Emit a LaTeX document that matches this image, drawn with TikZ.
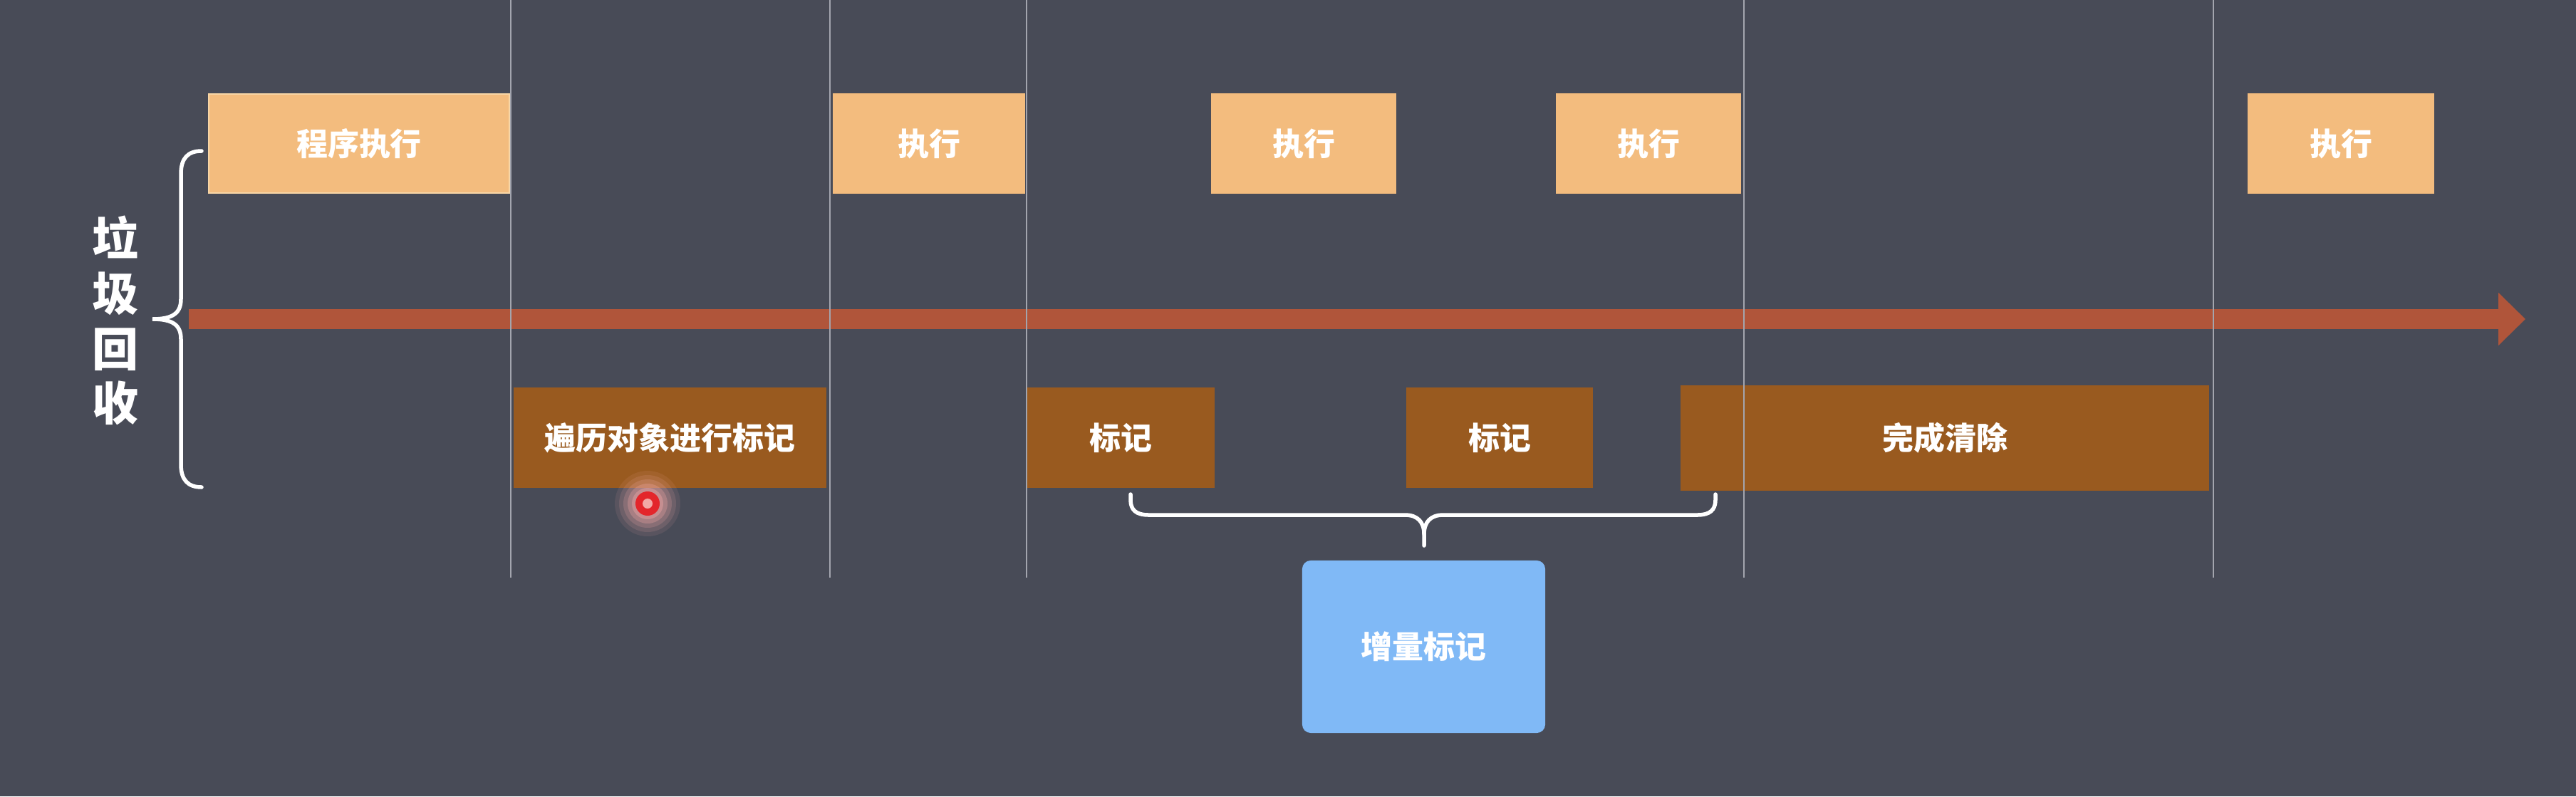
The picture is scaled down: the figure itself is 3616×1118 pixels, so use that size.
\documentclass[tikz,border=0pt]{standalone}
\usepackage{fontspec}
\newfontfamily\cjk{Noto Sans CJK SC}
\usetikzlibrary{arrows.meta}
\definecolor{bg}{HTML}{484B57}
\definecolor{upc}{HTML}{F3BC7E}
\definecolor{upedge}{HTML}{F8D6A6}
\definecolor{lowc}{HTML}{995A1F}
\definecolor{arrc}{HTML}{B0553A}
\definecolor{gridc}{HTML}{A3A5AE}
\definecolor{bluec}{HTML}{80B9F6}
\definecolor{cursred}{HTML}{E3262B}
\definecolor{curspink}{HTML}{F2A9A6}
\begin{document}
\begin{tikzpicture}[x=0.01cm,y=-0.01cm,
  txt/.style={text=white,font=\cjk\bfseries\fontsize{12.5}{15}\selectfont,inner sep=0pt},
  upbox/.style={txt,fill=upc,minimum height=1.41cm},
  lowbox/.style={txt,fill=lowc,minimum height=1.41cm},
  bluebox/.style={txt,fill=bluec,rounded corners=0.12cm},
  sep/.style={draw=gridc,line width=0.025cm},
  timeline/.style={draw=arrc,line width=0.27cm,-{Triangle[length=0.38cm,width=0.72cm]}},
  bracec/.style={draw=white,line width=0.055cm,line cap=round},
  side/.style={text=white,font=\cjk\bfseries\fontsize{18.5}{22}\selectfont,inner sep=0pt}]
\fill[bg] (0,0) rectangle (3616,1118);
\useasboundingbox (0,0) rectangle (3616,1118);
% timeline
\coordinate (t0) at (265,448);
\coordinate (t1) at (3545,448);
\draw[timeline] (t0) -- (t1);
% upper boxes
\node[upbox,draw=upedge,line width=0.02cm,minimum width=4.22cm,minimum height=1.39cm] (p0) at (504,201.5) {程序执行};
\node[upbox,minimum width=2.70cm] (e1) at (1304,201.5) {执行};
\node[upbox,minimum width=2.60cm] (e2) at (1830,201.5) {执行};
\node[upbox,minimum width=2.60cm] (e3) at (2314,201.5) {执行};
\node[upbox,minimum width=2.62cm] (e4) at (3286,201.5) {执行};
% lower boxes
\node[lowbox,minimum width=4.39cm] (m0) at (940.5,614.5) {遍历对象进行标记};
\node[lowbox,minimum width=2.63cm] (m1) at (1573.5,614.5) {标记};
\node[lowbox,minimum width=2.62cm] (m2) at (2105,614.5) {标记};
\node[lowbox,minimum width=7.42cm,minimum height=1.48cm] (c0) at (2730,615) {完成清除};
% blue box
\node[bluebox,minimum width=3.41cm,minimum height=2.42cm] (b0) at (1998.5,908) {增量标记};
% separators
\foreach \xx in {717,1165,1441,2448,3107}{
  \draw[sep] (\xx,0) -- (\xx,811);
}
% left brace
\draw[bracec] (283,212) .. controls (264,212) and (254,222) .. (254,244)
  -- (254,420) .. controls (254,440) and (242,448) .. (214,448)
  .. controls (242,448) and (254,456) .. (254,476)
  -- (254,652) .. controls (254,674) and (264,684) .. (283,684);
% bottom brace
\draw[bracec] (1587,694) -- (1587,702) .. controls (1587,716) and (1595,723) .. (1612,723)
  -- (1972,723) .. controls (1990,723) and (1999,733) .. (1999,750) -- (1999,766);
\draw[bracec] (2408,694) -- (2408,702) .. controls (2408,716) and (2400,723) .. (2383,723)
  -- (2026,723) .. controls (2008,723) and (1999,733) .. (1999,750);
% side label
\node[side] (s1) at (162,333) {垃};
\node[side] (s2) at (162,412) {圾};
\node[side] (s3) at (162,491) {回};
\node[side] (s4) at (162,566) {收};
% cursor marker
\foreach \rr/\oo in {46/0.10,40/0.14,34/0.2,28/0.3,22/0.4}{
  \fill[curspink,opacity=\oo] (909,707) circle (\rr);
}
\fill[cursred] (909,707) circle (17);
\fill[curspink] (909,707) circle (7);
\end{tikzpicture}
\end{document}
